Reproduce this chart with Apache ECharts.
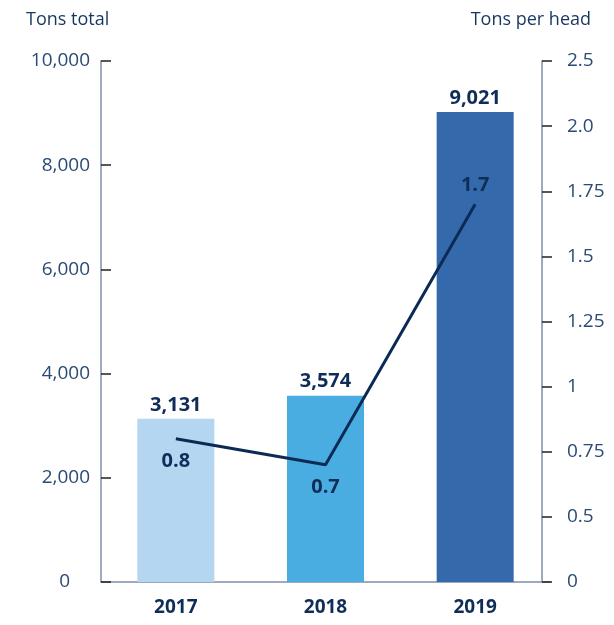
<!DOCTYPE html>
<html>
<head>
<meta charset="utf-8">
<script src="https://cdn.jsdelivr.net/npm/echarts@6/dist/echarts.min.js"></script>
<style>
  html, body { margin: 0; padding: 0; background: #ffffff; }
  #chart { width: 614px; height: 625px; }
</style>
</head>
<body>
<div id="chart"></div>
<script>
// Waste totals per year (tons) and per-head figures
const years = ['2017', '2018', '2019'];
const tonsTotal = [3131, 3574, 9021];
const tonsPerHead = [0.8, 0.7, 1.7];
const barColors = ['#b5d6f1', '#4aade2', '#3469ab'];
const rightTickLabels = ['0', '0.5', '0.75', '1', '1.25', '1.5', '1.75', '2.0', '2.5'];

const FONT = '"Open Sans", "Noto Sans", sans-serif';
const NAVY = '#0f2d57';
const LABEL = '#2b4a75';
const AXIS = '#7d8fa6';

const chart = echarts.init(document.getElementById('chart'), null, { renderer: 'canvas' });

chart.setOption({
  animation: false,
  backgroundColor: '#ffffff',
  grid: { left: 101, right: 64, top: 61, bottom: 43, containLabel: false },
  graphic: [
    { type: 'text', left: 26, top: 11, style: { text: 'Tons total', font: '18px ' + FONT, fill: '#17365f' } },
    { type: 'text', right: 23, top: 11, style: { text: 'Tons per head', font: '18px ' + FONT, fill: '#17365f' } }
  ],
  xAxis: {
    type: 'category',
    data: years,
    axisLine: { lineStyle: { color: AXIS, width: 1.5 } },
    axisTick: { show: false },
    axisLabel: { color: NAVY, fontFamily: FONT, fontSize: 19, fontWeight: 'bold', margin: 16 }
  },
  yAxis: [
    {
      type: 'value',
      min: 0, max: 10000, interval: 2000,
      axisLine: { show: true, lineStyle: { color: AXIS, width: 1.5 } },
      axisTick: { show: true, inside: true, length: 10, lineStyle: { color: '#222', width: 1.5 } },
      splitLine: { show: false },
      axisLabel: {
        color: LABEL, fontFamily: FONT, fontSize: 19, margin: 11,
        formatter: v => v === 0 ? '{z|0}' : v.toLocaleString('en-US'),
        rich: { z: { color: LABEL, fontFamily: FONT, fontSize: 19, padding: [0, 20, 0, 0] } }
      }
    },
    {
      type: 'value',
      position: 'right',
      offset: -8,
      min: 0.25, max: 2.25, interval: 0.25,
      axisLine: { show: true, lineStyle: { color: AXIS, width: 1.5 } },
      axisTick: { show: true, inside: false, length: 10, lineStyle: { color: '#222', width: 1.5 } },
      splitLine: { show: false },
      axisLabel: {
        color: LABEL, fontFamily: FONT, fontSize: 19, margin: 25,
        formatter: (v, i) => rightTickLabels[i]
      }
    }
  ],
  series: [
    {
      type: 'bar',
      yAxisIndex: 0,
      barWidth: 77,
      data: tonsTotal.map((v, i) => ({ value: v, itemStyle: { color: barColors[i] } })),
      label: {
        show: true, position: 'top', distance: 4,
        color: NAVY, fontFamily: FONT, fontSize: 20, fontWeight: 'bold',
        formatter: p => p.value.toLocaleString('en-US')
      }
    },
    {
      type: 'line',
      yAxisIndex: 1,
      data: tonsPerHead.map((v, i) => ({
        value: v,
        label: i === 2
          ? { show: true, position: 'top', distance: 8 }
          : { show: true, position: 'bottom', distance: 12 }
      })),
      symbol: 'circle',
      symbolSize: 1,
      showSymbol: true,
      itemStyle: { color: 'rgba(0,0,0,0)' },
      lineStyle: { color: '#0b2b55', width: 3 },
      label: {
        show: true,
        color: NAVY, fontFamily: FONT, fontSize: 20, fontWeight: 'bold',
        formatter: p => p.value.toFixed(1)
      },
      labelLayout: { hideOverlap: false }
    }
  ]
});
</script>
</body>
</html>
